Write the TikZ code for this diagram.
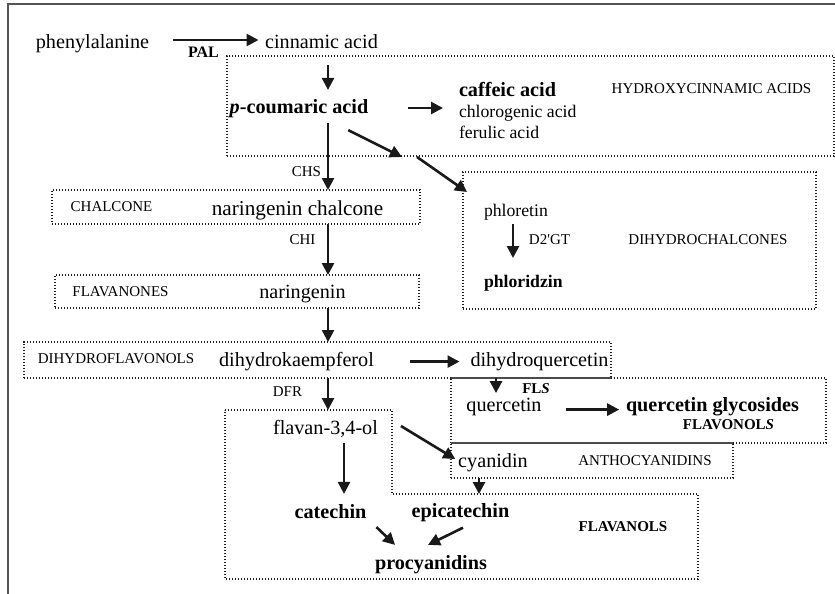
\documentclass[tikz,border=0pt]{standalone}
\usepackage{fontspec}
\setmainfont{Liberation Serif}
\usetikzlibrary{arrows.meta,calc}
\definecolor{myFrame}{RGB}{85,85,85}
\definecolor{myDots}{RGB}{30,30,30}
\tikzset{
	pcmp/.style={
		inner sep=0pt,
		outer sep=0pt,
		text height=7.1pt,
		text depth=2pt,
		font=\fontsize{10.1}{12}\selectfont
	},
	pcmpb/.style={pcmp, font=\fontsize{10.1}{12}\selectfont\bfseries},
	pcmps/.style={
		inner sep=0pt,
		outer sep=0pt,
		text height=6.2pt,
		text depth=1.8pt,
		font=\fontsize{8.85}{10}\selectfont
	},
	pcls/.style={
		inner sep=0pt,
		outer sep=0pt,
		text height=5.3pt,
		text depth=1.5pt,
		font=\fontsize{7.5}{9}\selectfont
	},
	pclsb/.style={pcls, font=\fontsize{7.5}{9}\selectfont\bfseries},
	pbox/.style={draw=myDots, line width=0.6pt, dash pattern=on 0.6pt off 0.9pt, inner sep=0pt, outer sep=0pt},
	pjoin/.style={draw=myDots!80, line width=0.8pt},
	parr/.style={-{Triangle[length=6pt,width=6pt]}, line width=1.3pt, black!90}
}

\begin{document}
\begin{tikzpicture}[x=0.5pt, y=-0.5pt]
	\useasboundingbox (0,0) rectangle (835,594);
	\draw[myFrame, line width=1pt] (8,594) -- (8,4) -- (835,4);

	% class boxes
	\node[pbox, minimum width=303.5pt, minimum height=50pt] (bhca) at (530.5,106) {};
	\node[pbox, minimum width=176.5pt, minimum height=68.5pt] (bdhc) at (639.5,240.5) {};
	\node[pbox, minimum width=184pt, minimum height=17pt] (bchal) at (236,207) {};
	\node[pbox, minimum width=182pt, minimum height=16.5pt] (bnar) at (237,291.5) {};
	\node[pbox, minimum width=293.5pt, minimum height=18pt] (bdhf) at (317.5,360) {};
	\node[pbox, minimum width=187.5pt, minimum height=32.5pt] (bfls) at (638.5,410.5) {};
	\node[pbox, minimum width=141pt, minimum height=17.5pt] (bant) at (592,460.5) {};
	\draw[pbox] (225,410) coordinate (ftop) -- (392,410) -- (392,494) coordinate (fstep)
		-- (698,494) -- (698,579) -- (225,579) -- cycle;
	\draw[pjoin] (bfls.north west) -- (bfls.north west -| bdhf.east);
	\draw[pjoin] (bant.north west) -- (bant.north east);

	\coordinate (ax) at (328,0);
	\coordinate (bx) at (344,0);
	\coordinate (cx) at (479,0);
	\coordinate (dx) at (496,0);
	\coordinate (ex) at (513,0);

	% compounds
	\node[pcmp] (phe) at (92.5,43) {phenylalanine};
	\node[pcmp] (cin) at (321.5,43) {cinnamic acid};
	\node[pcmpb] (pcou) at (299,108) {\textit{p}-coumaric acid};
	\node[pcmpb, anchor=west] (caf) at (459,91) {caffeic acid};
	\node[pcmps, anchor=west] (chl) at (459,113) {chlorogenic acid};
	\node[pcmps, anchor=west] (fer) at (459,133.6) {ferulic acid};
	\node[pcmp, font=\fontsize{10.6}{12}\selectfont] (narc) at (297.5,210.7) {naringenin chalcone};
	\node[pcmps, anchor=west] (phl) at (484,211.6) {phloretin};
	\node[pcmps, anchor=west, font=\fontsize{8.85}{10}\selectfont\bfseries] (phz) at (484,282.6) {phloridzin};
	\node[pcmp] (nar) at (302.5,293) {naringenin};
	\node[pcmp] (dhk) at (296.5,361.6) {dihydrokaempferol};
	\node[pcmp] (dhq) at (539.5,361.6) {dihydroquercetin};
	\node[pcmp] (que) at (504,406.6) {quercetin};
	\node[pcmpb] (qgly) at (712.5,406.6) {quercetin glycosides};
	\node[pcmp] (flav) at (325.5,429) {flavan-3,4-ol};
	\node[pcmp] (cya) at (493,462) {cyanidin};
	\node[pcmpb] (cat) at (330.5,513) {catechin};
	\node[pcmpb] (epi) at (460.5,512.6) {epicatechin};
	\node[pcmpb] (pro) at (431,564) {procyanidins};

	% enzymes
	\node[pcls, font=\fontsize{8}{9}\selectfont\bfseries] (pal) at (203.5,54) {PAL};
	\node[pcls] (chs) at (306.5,173) {CHS};
	\node[pcls] (chi) at (302.5,241) {CHI};
	\node[pcls] (d2gt) at (549.5,241) {D2\textquotesingle GT};
	\node[pcls] (dfr) at (287.5,393) {DFR};
	\node[pclsb] (fls) at (536,389.5) {FL\textit{S}};

	% classes
	\node[pcls] (lhca) at (711.5,89.6) {HYDROXYCINNAMIC ACIDS};
	\node[pcls] (lchal) at (111.5,208) {CHALCONE};
	\node[pcls] (ldhc) at (708,241) {DIHYDROCHALCONES};
	\node[pcls] (lnar) at (120.5,293) {FLAVANONES};
	\node[pcls] (ldhf) at (116,360) {DIHYDROFLAVONOLS};
	\node[pclsb] (lfls) at (728.5,426) {FLAVONOL\textit{S}};
	\node[pcls] (lant) at (645,462) {ANTHOCYANIDINS};
	\node[pclsb] (lfla) at (623,528) {FLAVANOLS};

	% pathway
	\draw[parr, shorten <=12pt, shorten >=3.3pt] ([yshift=1.5pt]phe.east) -- ([yshift=1.5pt]phe.east -| cin.west);
	\draw[parr, shorten <=6.5pt, shorten >=4.5pt] (cin.south -| ax) -- (pcou.north -| ax);
	\draw[parr, shorten <=20pt, shorten >=8pt] (pcou.east) -- (pcou.east -| chl.west);
	\draw[parr] ($(pcou.south east)+(-20,13)$) -- ($(bhca.south west)+(175,1)$);
	\draw[parr] ($(bhca.south west)+(190,1)$) -- ($(bdhc.north west)+(4,20)$);
	\draw[parr, shorten <=3pt] (pcou.south -| ax) -- (bchal.north -| ax);
	\draw[parr] (bchal.south -| ax) -- (bnar.north -| ax);
	\draw[parr] (bnar.south -| ax) -- (bdhf.north -| ax);
	\draw[parr, shorten <=2.2pt, shorten >=8.3pt] (phl.south -| ex) -- (phz.north -| ex);
	\draw[parr, shorten <=18pt, shorten >=5.5pt] (dhk.east) -- (dhk.east -| dhq.west);
	\draw[parr, shorten <=3.6pt, shorten >=2.2pt] (dhq.south -| dx) -- (que.north -| dx);
	\draw[parr, shorten <=12pt, shorten >=3.4pt] ($(qgly.west -| que.east)+(0,3)$) -- ($(qgly.west)+(0,3)$);
	\draw[parr] (bdhf.south -| ax) -- (ftop -| ax);
	\draw[parr] ($(flav.east)+(23,-3)$) -- ($(cya.west)+(-3,-3)$);
	\draw[parr] (bant.south -| cx) -- (fstep -| cx);
	\draw[parr, shorten <=2.5pt, shorten >=5pt] (flav.south -| bx) -- (cat.north -| bx);
	\draw[parr] ($(cat.south east)+(10,5)$) -- ($(pro.north west)+(20,-10)$);
	\draw[parr] ($(epi.south)+(2.5,6)$) -- ($(pro.north)+(-3,-10)$);
\end{tikzpicture}
\end{document}
